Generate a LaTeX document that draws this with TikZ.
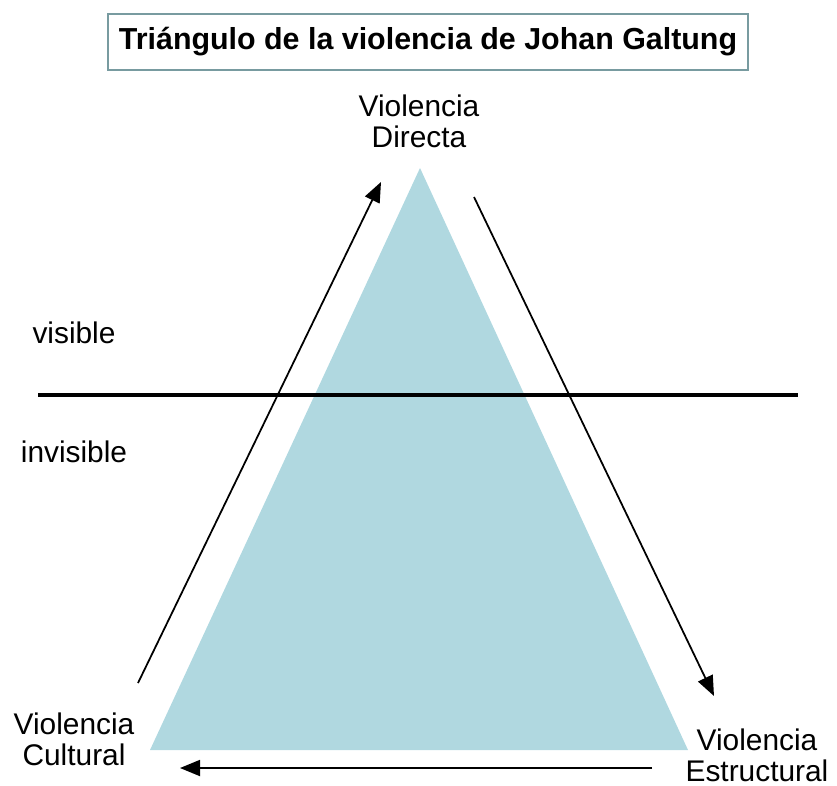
\documentclass[tikz,border=0pt]{standalone}
\usepackage{fontspec}
\setmainfont{Liberation Sans}
\usetikzlibrary{arrows.meta}
\definecolor{triblue}{RGB}{176,216,224}
\definecolor{boxline}{RGB}{120,155,160}

\begin{document}
\begin{tikzpicture}[x=0.02cm, y=-0.02cm,
      lbl/.style={font=\fontsize{17}{17.5}\selectfont, align=center, inner sep=0pt},
      arr/.style={-{Triangle[length=4mm, width=3.2mm]}, line width=1pt},
      divider/.style={line width=2.4pt}]
    \useasboundingbox (0,0) rectangle (837,785);
    % title box
    \node[draw=boxline, line width=0.8pt, minimum width=12.8cm, minimum height=1.12cm, inner sep=0pt,
      font=\fontsize{17.3}{20}\selectfont\bfseries] (title) at (428,42) {Triángulo de la violencia de Johan Galtung};
    % the triangle
    \coordinate (apex) at (420,168);
    \coordinate (bl) at (150,750);
    \coordinate (br) at (688,750);
    \fill[triblue] (apex) -- (bl) -- (br) -- cycle;
    % visible / invisible divider
    \coordinate (divL) at (38,395);
    \coordinate (divR) at (798,395);
    \draw[divider] (divL) -- (divR);
    \node[lbl, anchor=base] (vis) at (74,343) {visible};
    \node[lbl, anchor=base] (invis) at (74,462) {invisible};
    % corner labels
    \node[lbl] (directa) at (419,121) {Violencia\\Directa};
    \node[lbl] (cultural) at (74,739) {Violencia\\Cultural};
    \node[lbl] (estructural) at (757,755) {Violencia\\Estructural};
    % arrows round the triangle
    \coordinate (upS) at (138,683);
    \coordinate (upE) at (381,182);
    \coordinate (downS) at (474,197);
    \coordinate (downE) at (714,696);
    \coordinate (backS) at (652,768);
    \coordinate (backE) at (180,768);
    \draw[arr] (upS) -- (upE);
    \draw[arr] (downS) -- (downE);
    \draw[arr] (backS) -- (backE);
  \end{tikzpicture}
\end{document}
